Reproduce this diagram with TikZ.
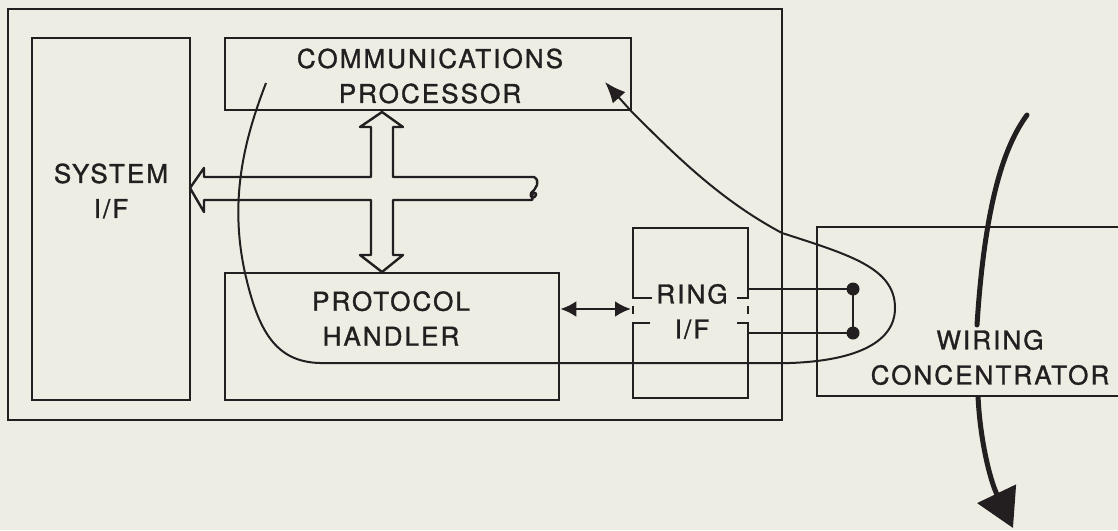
\documentclass[tikz,border=0pt]{standalone}
\usepackage{fontspec}
\setmainfont{TeX Gyre Heros}
\newfontfamily\lab[LetterSpace=8, FakeBold=1.2]{TeX Gyre Heros}
\usetikzlibrary{arrows.meta}
\definecolor{paper}{HTML}{EEEDE4}
\definecolor{ink}{HTML}{231F20}
\begin{document}
\begin{tikzpicture}[x=1pt,y=-1pt,
  box/.style={draw=ink, line width=2.6pt},
  lbl/.style={font=\lab\fontsize{26}{35}\selectfont, text=ink, align=center, inner sep=0pt},
  wire/.style={draw=ink, line width=2pt},
  bus/.style={draw=ink, line width=2.4pt, line join=round},
  thick wire/.style={draw=ink, line width=5pt, line cap=round},
]
\fill[paper] (0,0) rectangle (1118,530);
\useasboundingbox (0,0) rectangle (1118,530);

% boxes
\node[box, minimum width=774pt, minimum height=411pt] (outer) at (395,214.5) {};
\node[box, minimum width=158pt, minimum height=362pt] (sys) at (111,219) {};
\node[box, minimum width=406pt, minimum height=72pt] (comm) at (428,74) {};
\node[box, minimum width=334pt, minimum height=127pt] (ph) at (392,336.5) {};

% ring I/F (broken outline)
\coordinate (rtl) at (633,228);
\coordinate (rbr) at (748,398);
\draw[box] (652,298) -- (633,298) -- (rtl) -- (748,228) -- (748,298) -- (737,298);
\draw[box] (633,306) -- (633,314);
\draw[box] (748,306) -- (748,314);
\draw[box] (650,323) -- (633,323) -- (633,398) -- (rbr) -- (748,323) -- (737,323);

% wiring concentrator box (open to the right)
\draw[box] (1121,227) -- (817,227) -- (817,396) -- (1121,396);

% labels
\node[lbl] (tcomm) at (430,76) {COMMUNICATIONS\\PROCESSOR};
\node[lbl] (tsys) at (111,191) {SYSTEM\\I/F};
\node[lbl] (tph) at (391,318.5) {PROTOCOL\\HANDLER};
\node[lbl] (tring) at (692,311.5) {RING\\I/F};
\node[lbl] (twc) at (990,357.5) {WIRING\\CONCENTRATOR};

% hollow bus cross
\coordinate (uptip) at (382,112);
\coordinate (dntip) at (382,272);
\coordinate (lftip) at (190,188);
\draw[bus] (uptip) -- (403,127) -- (393,127) -- (393,177) -- (534,177)
  .. controls (541,181) and (536,189) .. (531,193)
  .. controls (529,198) and (535,199) .. (536,195)
  .. controls (537,192) and (532,192) .. (532,196)
  .. controls (532,199) and (534,200) .. (530,200)
  -- (393,200) -- (393,255) -- (403,255) -- (dntip) -- (360,255) -- (371,255)
  -- (371,200) -- (204,200) -- (204,212) -- (lftip) -- (204,168) -- (204,177)
  -- (371,177) -- (371,127) -- (360,127) -- cycle;

% protocol handler <-> ring I/F
\coordinate (rin) at (631,309);
\draw[wire, line width=2.8pt, {Latex[length=16pt,width=16pt]}-{Latex[length=16pt,width=16pt]}] (ph.east |- rin) -- (rin);

% ring connections to concentrator
\coordinate (r1) at (748,289);
\coordinate (r2) at (748,333);
\coordinate (d1) at (853,289);
\coordinate (d2) at (853,333);
\draw[wire, line width=2.6pt] (r1) -- (d1) -- (d2) -- (r2);
\fill[ink] (d1) circle (6.5pt) (d2) circle (6.5pt);

% token path loop
\coordinate (ls) at (266,83);
\coordinate (lb) at (245,273);
\coordinate (lr) at (895,308);
\coordinate (lx) at (782,233);
\coordinate (cc) at (631,111);
\coordinate (at) at (605,82);
\draw[wire, line width=2pt, -{Latex[length=21pt,width=17pt]}] (ls)
  .. controls (244,140) and (229,200) .. (lb)
  .. controls (258,330) and (275,362) .. (320,363)
  -- (790,363)
  .. controls (850,361) and (895,345) .. (lr)
  .. controls (895,268) and (850,255) .. (lx)
  .. controls (720,200) and (675,155) .. (cc) -- (at);

% wiring path through concentrator
\coordinate (wtop) at (1027,115);
\coordinate (wbot) at (1013,528);
\draw[thick wire] (wtop) .. controls (1005,145) and (985,200) .. (977,325);
\draw[thick wire, line cap=butt, -{Triangle[length=38pt,width=42pt]}] (978,396) .. controls (980,440) and (990,480) .. (wbot);
\end{tikzpicture}
\end{document}
